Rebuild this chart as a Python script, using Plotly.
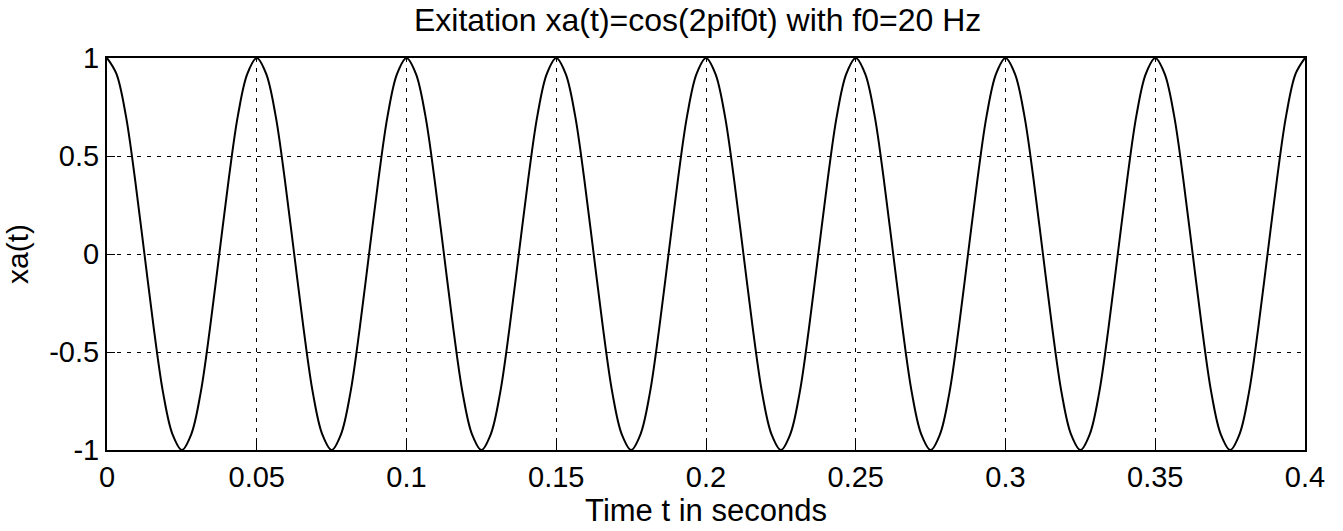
import plotly.graph_objects as go

# time samples (s), 1/16-period spacing (period 0.05 s)
t = [0.0, 0.003125, 0.00625, 0.009375, 0.0125, 0.015625, 0.01875, 0.021875,
     0.025, 0.028125, 0.03125, 0.034375, 0.0375, 0.040625, 0.04375, 0.046875,
     0.05, 0.053125, 0.05625, 0.059375, 0.0625, 0.065625, 0.06875, 0.071875,
     0.075, 0.078125, 0.08125, 0.084375, 0.0875, 0.090625, 0.09375, 0.096875,
     0.1, 0.103125, 0.10625, 0.109375, 0.1125, 0.115625, 0.11875, 0.121875,
     0.125, 0.128125, 0.13125, 0.134375, 0.1375, 0.140625, 0.14375, 0.146875,
     0.15, 0.153125, 0.15625, 0.159375, 0.1625, 0.165625, 0.16875, 0.171875,
     0.175, 0.178125, 0.18125, 0.184375, 0.1875, 0.190625, 0.19375, 0.196875,
     0.2, 0.203125, 0.20625, 0.209375, 0.2125, 0.215625, 0.21875, 0.221875,
     0.225, 0.228125, 0.23125, 0.234375, 0.2375, 0.240625, 0.24375, 0.246875,
     0.25, 0.253125, 0.25625, 0.259375, 0.2625, 0.265625, 0.26875, 0.271875,
     0.275, 0.278125, 0.28125, 0.284375, 0.2875, 0.290625, 0.29375, 0.296875,
     0.3, 0.303125, 0.30625, 0.309375, 0.3125, 0.315625, 0.31875, 0.321875,
     0.325, 0.328125, 0.33125, 0.334375, 0.3375, 0.340625, 0.34375, 0.346875,
     0.35, 0.353125, 0.35625, 0.359375, 0.3625, 0.365625, 0.36875, 0.371875,
     0.375, 0.378125, 0.38125, 0.384375, 0.3875, 0.390625, 0.39375, 0.396875,
     0.4]
# values at those instants
xa = [1, 0.92, 0.71, 0.38, 0, -0.38, -0.71, -0.92, -1, -0.92, -0.71, -0.38, 0, 0.38, 0.71, 0.92,
      1, 0.92, 0.71, 0.38, 0, -0.38, -0.71, -0.92, -1, -0.92, -0.71, -0.38, 0, 0.38, 0.71, 0.92,
      1, 0.92, 0.71, 0.38, 0, -0.38, -0.71, -0.92, -1, -0.92, -0.71, -0.38, 0, 0.38, 0.71, 0.92,
      1, 0.92, 0.71, 0.38, 0, -0.38, -0.71, -0.92, -1, -0.92, -0.71, -0.38, 0, 0.38, 0.71, 0.92,
      1, 0.92, 0.71, 0.38, 0, -0.38, -0.71, -0.92, -1, -0.92, -0.71, -0.38, 0, 0.38, 0.71, 0.92,
      1, 0.92, 0.71, 0.38, 0, -0.38, -0.71, -0.92, -1, -0.92, -0.71, -0.38, 0, 0.38, 0.71, 0.92,
      1, 0.92, 0.71, 0.38, 0, -0.38, -0.71, -0.92, -1, -0.92, -0.71, -0.38, 0, 0.38, 0.71, 0.92,
      1, 0.92, 0.71, 0.38, 0, -0.38, -0.71, -0.92, -1, -0.92, -0.71, -0.38, 0, 0.38, 0.71, 0.92,
      1]

x_ticks = [0, 0.05, 0.1, 0.15, 0.2, 0.25, 0.3, 0.35, 0.4]
x_tick_labels = ["0", "0.05", "0.1", "0.15", "0.2", "0.25", "0.3", "0.35", "0.4"]
y_ticks = [-1, -0.5, 0, 0.5, 1]
y_tick_labels = ["-1", "-0.5", "0", "0.5", "1"]

FONT = "Liberation Sans, Arial, Helvetica, sans-serif"

fig = go.Figure()
fig.add_trace(go.Scatter(x=t, y=xa, mode="lines",
                         line=dict(color="black", width=2, shape="spline", smoothing=1.0),
                         showlegend=False, hoverinfo="skip"))

fig.update_layout(
    width=1343, height=531,
    margin=dict(l=107, r=38, t=58, b=81),
    paper_bgcolor="white", plot_bgcolor="white",
    font=dict(family=FONT, color="black", size=29),
    title=dict(text="Exitation xa(t)=cos(2pif0t) with f0=20 Hz",
               x=0.493, xref="paper", xanchor="center",
               y=1, yref="container", yanchor="top", pad=dict(t=9),
               font=dict(size=32, family=FONT, color="black")),
)
fig.update_xaxes(range=[0, 0.4], tickmode="array", tickvals=x_ticks, ticktext=x_tick_labels,
                 showline=True, linecolor="black", linewidth=2, mirror=True,
                 ticks="inside", ticklen=8, tickcolor="black",
                 showgrid=True, gridcolor="black", gridwidth=1.2, griddash="4px,6px",
                 zeroline=False, tickfont=dict(size=29),
                 title=dict(text="Time t in seconds", font=dict(size=31), standoff=5))
fig.update_yaxes(range=[-1, 1], tickmode="array", tickvals=y_ticks, ticktext=y_tick_labels,
                 showline=True, linecolor="black", linewidth=2, mirror=True,
                 ticks="inside", ticklen=8, tickcolor="black",
                 showgrid=True, gridcolor="black", gridwidth=1.2, griddash="4px,6px",
                 zeroline=False, tickfont=dict(size=29),
                 title=dict(text="xa(t)", font=dict(size=30), standoff=12))

fig.write_html("out.html")
